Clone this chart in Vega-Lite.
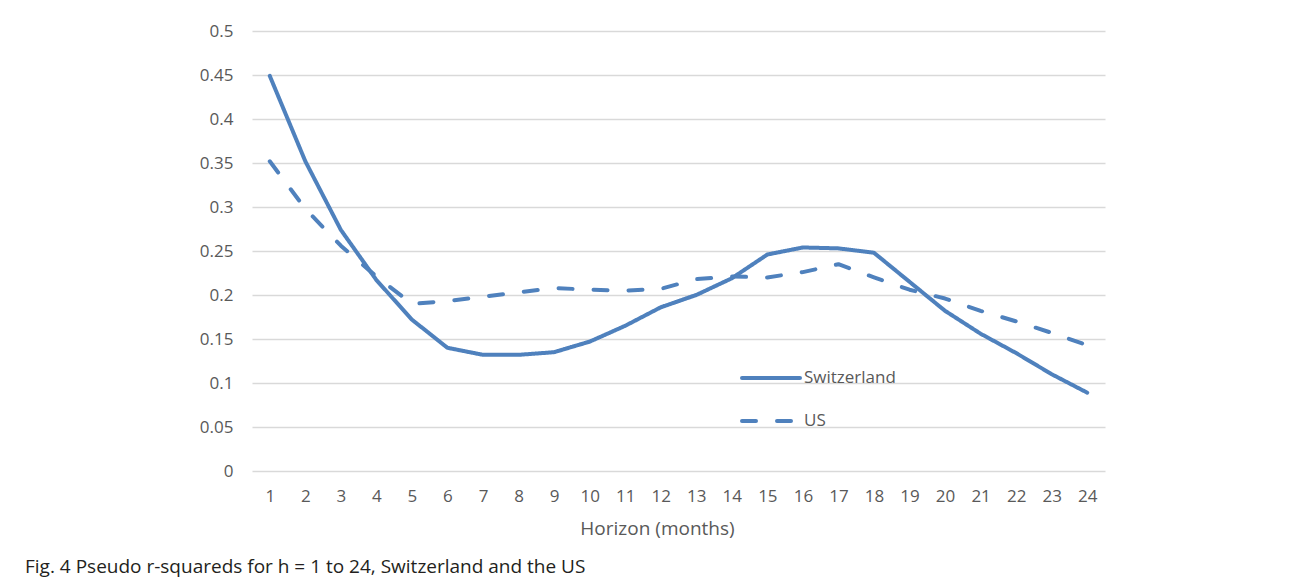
{
  "$schema": "https://vega.github.io/schema/vega-lite/v6.json",
  "autosize": {"type": "none"},
  "padding": {"left": 252, "top": 31, "right": 185, "bottom": 115},
  "width": 853,
  "height": 440,
  "background": "white",
  "title": {
    "text": "Fig. 4 Pseudo r-squareds for h = 1 to 24, Switzerland and the US",
    "orient": "bottom",
    "anchor": "start",
    "frame": "group",
    "dx": -227,
    "offset": 20,
    "font": "Open Sans",
    "fontSize": 19,
    "fontWeight": "normal",
    "color": "#231F20"
  },
  "data": {
    "values": [
      {"h": 1, "country": "Switzerland", "r2": 0.449},
      {"h": 2, "country": "Switzerland", "r2": 0.352},
      {"h": 3, "country": "Switzerland", "r2": 0.274},
      {"h": 4, "country": "Switzerland", "r2": 0.217},
      {"h": 5, "country": "Switzerland", "r2": 0.172},
      {"h": 6, "country": "Switzerland", "r2": 0.140},
      {"h": 7, "country": "Switzerland", "r2": 0.132},
      {"h": 8, "country": "Switzerland", "r2": 0.132},
      {"h": 9, "country": "Switzerland", "r2": 0.135},
      {"h": 10, "country": "Switzerland", "r2": 0.147},
      {"h": 11, "country": "Switzerland", "r2": 0.165},
      {"h": 12, "country": "Switzerland", "r2": 0.186},
      {"h": 13, "country": "Switzerland", "r2": 0.200},
      {"h": 14, "country": "Switzerland", "r2": 0.219},
      {"h": 15, "country": "Switzerland", "r2": 0.246},
      {"h": 16, "country": "Switzerland", "r2": 0.254},
      {"h": 17, "country": "Switzerland", "r2": 0.253},
      {"h": 18, "country": "Switzerland", "r2": 0.248},
      {"h": 19, "country": "Switzerland", "r2": 0.215},
      {"h": 20, "country": "Switzerland", "r2": 0.182},
      {"h": 21, "country": "Switzerland", "r2": 0.156},
      {"h": 22, "country": "Switzerland", "r2": 0.134},
      {"h": 23, "country": "Switzerland", "r2": 0.110},
      {"h": 24, "country": "Switzerland", "r2": 0.089},
      {"h": 1, "country": "US", "r2": 0.352},
      {"h": 2, "country": "US", "r2": 0.298},
      {"h": 3, "country": "US", "r2": 0.256},
      {"h": 4, "country": "US", "r2": 0.221},
      {"h": 5, "country": "US", "r2": 0.190},
      {"h": 6, "country": "US", "r2": 0.193},
      {"h": 7, "country": "US", "r2": 0.198},
      {"h": 8, "country": "US", "r2": 0.203},
      {"h": 9, "country": "US", "r2": 0.208},
      {"h": 10, "country": "US", "r2": 0.206},
      {"h": 11, "country": "US", "r2": 0.205},
      {"h": 12, "country": "US", "r2": 0.207},
      {"h": 13, "country": "US", "r2": 0.218},
      {"h": 14, "country": "US", "r2": 0.221},
      {"h": 15, "country": "US", "r2": 0.220},
      {"h": 16, "country": "US", "r2": 0.226},
      {"h": 17, "country": "US", "r2": 0.235},
      {"h": 18, "country": "US", "r2": 0.220},
      {"h": 19, "country": "US", "r2": 0.206},
      {"h": 20, "country": "US", "r2": 0.196},
      {"h": 21, "country": "US", "r2": 0.182},
      {"h": 22, "country": "US", "r2": 0.170},
      {"h": 23, "country": "US", "r2": 0.157},
      {"h": 24, "country": "US", "r2": 0.143}
    ]
  },
  "mark": {"type": "line", "strokeWidth": 4, "strokeCap": "round", "strokeJoin": "round", "color": "#4F81BD"},
  "encoding": {
    "x": {
      "field": "h",
      "type": "ordinal",
      "scale": {"type": "point", "padding": 0.5},
      "axis": {
        "title": "Horizon (months)",
        "labelAngle": 0,
        "labelFont": "Open Sans",
        "labelFontSize": 17,
        "labelColor": "#595959",
        "labelPadding": 17,
        "ticks": false,
        "domain": false,
        "grid": false,
        "titleFont": "Open Sans",
        "titleFontSize": 19,
        "titleFontWeight": "normal",
        "titleColor": "#595959",
        "titleX": 405,
        "titleY": 57,
        "titleAlign": "center",
        "titleBaseline": "middle"
      }
    },
    "y": {
      "field": "r2",
      "type": "quantitative",
      "scale": {"domain": [0, 0.5], "nice": false, "zero": true},
      "axis": {
        "title": null,
        "values": [0, 0.05, 0.1, 0.15, 0.2, 0.25, 0.3, 0.35, 0.4, 0.45, 0.5],
        "format": "~g",
        "labelFont": "Open Sans",
        "labelFontSize": 17,
        "labelColor": "#595959",
        "labelPadding": 19,
        "ticks": false,
        "domain": false,
        "grid": true,
        "gridColor": "#D9D9D9",
        "gridWidth": 1.5
      }
    },
    "strokeDash": {
      "field": "country",
      "type": "nominal",
      "scale": {"domain": ["Switzerland", "US"], "range": [[1, 0], [14, 21]]},
      "legend": {
        "title": null,
        "orient": "none",
        "legendX": 488,
        "legendY": 316,
        "symbolType": "stroke",
        "symbolSize": 3364,
        "symbolStrokeWidth": 4,
        "symbolStrokeColor": "#4F81BD",
        "labelFont": "Open Sans",
        "labelFontSize": 17,
        "labelColor": "#595959",
        "labelOffset": 2,
        "rowPadding": 4,
        "encode": {"symbols": {"update": {"strokeCap": {"value": "round"}}}}
      }
    }
  },
  "config": {"view": {"stroke": null}}
}
